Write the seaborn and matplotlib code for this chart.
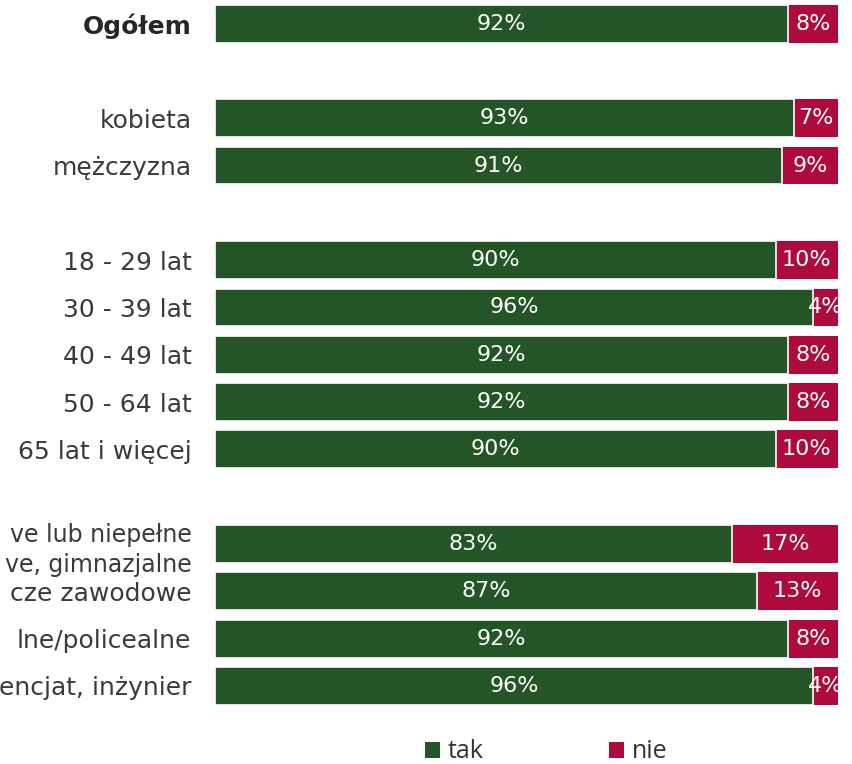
import matplotlib
matplotlib.use("Agg")
import matplotlib.pyplot as plt
import seaborn as sns
import pandas as pd
from matplotlib.patches import Patch

# Groups and their shares of answers (percent)
categories = [
    "Ogółem",
    "kobieta", "mężczyzna",
    "18 - 29 lat", "30 - 39 lat", "40 - 49 lat", "50 - 64 lat", "65 lat i więcej",
    "ve lub niepełne\nve, gimnazjalne",
    "cze zawodowe",
    "lne/policealne",
    "encjat, inżynier",
]
tak = [92, 93, 91, 90, 96, 92, 92, 90, 83, 87, 92, 96]
nie = [8, 7, 9, 10, 4, 8, 8, 10, 17, 13, 8, 4]
series_names = ["tak", "nie"]

GREEN = "#245526"
RED = "#ae0b3c"

# Slot order with empty separators between groups
order = (["Ogółem", " "] + ["kobieta", "mężczyzna", "  "]
         + ["18 - 29 lat", "30 - 39 lat", "40 - 49 lat", "50 - 64 lat", "65 lat i więcej", "   "]
         + categories[8:])

df = pd.DataFrame({"grupa": categories, "tak": tak, "nie": nie})
df["razem"] = df["tak"] + df["nie"]

sns.set_theme(style="white")
plt.rcParams["font.family"] = ["DejaVu Sans"]

W, H = 852, 764
fig = plt.figure(figsize=(W / 100, H / 100), dpi=100)
ax = fig.add_axes([215 / W, 1 - 709.6 / H, 623 / W, 709.6 / H])

# Total bar in red, "tak" share in green on top of it
sns.barplot(data=df, y="grupa", x="razem", order=order, color=RED, width=0.8,
            saturation=1, ax=ax, edgecolor="none")
sns.barplot(data=df, y="grupa", x="tak", order=order, color=GREEN, width=0.8,
            saturation=1, ax=ax, edgecolor="white", linewidth=1.2)

ax.set_xlim(0, 100)
ax.set_ylim(len(order) - 0.5, -0.5)
ax.set_xlabel("")
ax.set_ylabel("")
ax.set_xticks([])
sns.despine(ax=ax, left=True, bottom=True)

ax.tick_params(axis="y", length=0, pad=17, labelsize=18, labelcolor="#3a3a3a")
for lbl in ax.get_yticklabels():
    if lbl.get_text() == "Ogółem":
        lbl.set_fontweight("bold")
        lbl.set_color("#262626")
    if "\n" in lbl.get_text():
        lbl.set_linespacing(1.35)
        lbl.set_fontsize(17)

# Value labels centred in each segment
pos = {name: i for i, name in enumerate(order)}
for _, row in df.iterrows():
    y = pos[row["grupa"]]
    ax.text(row["tak"] / 2, y, f"{row['tak']}%", ha="center", va="center",
            color="white", fontsize=16, clip_on=True)
    ax.text(row["tak"] + row["nie"] / 2, y, f"{row['nie']}%", ha="center", va="center",
            color="white", fontsize=16, clip_on=True)

handles = [Patch(facecolor=GREEN, edgecolor="none"), Patch(facecolor=RED, edgecolor="none")]
fig.legend(handles, series_names, loc="center", bbox_to_anchor=(0.641, 1 - 752 / H),
           ncol=2, frameon=False, handlelength=0.6, handleheight=0.6, handletextpad=0.32,
           columnspacing=5.0, prop={"family": "Open Sans", "size": 18}, labelcolor="#333333",
           borderpad=0, borderaxespad=0)

fig.savefig("out.png", dpi=100)
